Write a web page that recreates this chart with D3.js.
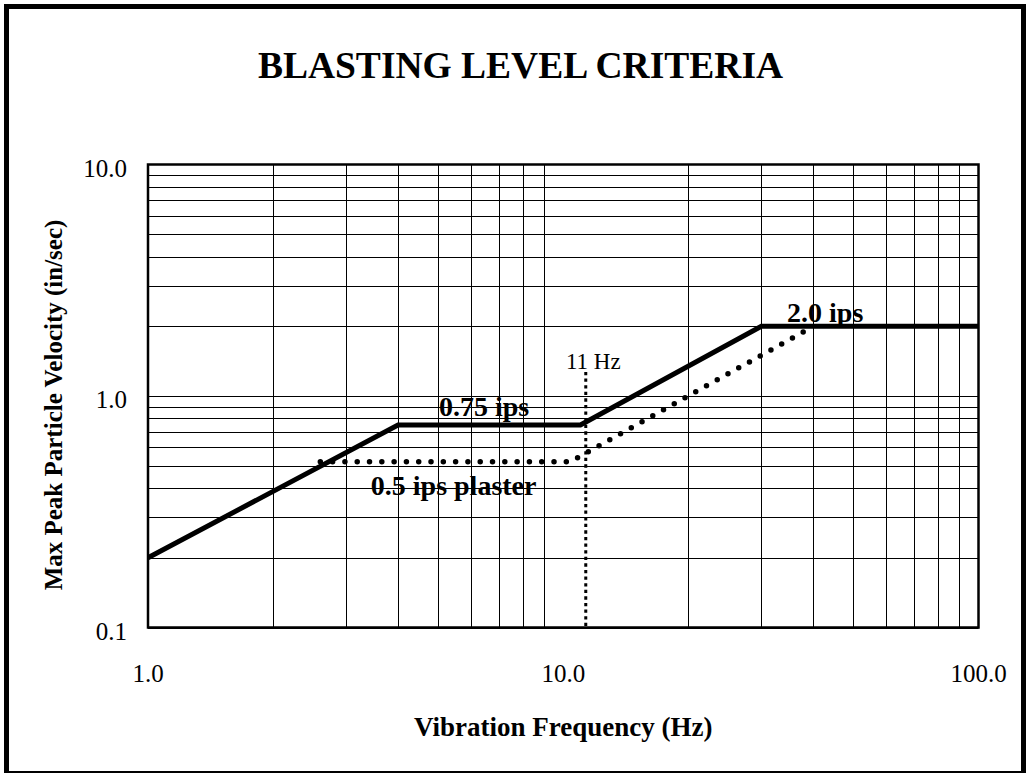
<!DOCTYPE html>
<html><head><meta charset="utf-8">
<script src="https://cdn.jsdelivr.net/npm/d3@7"></script>
<style>
html,body{margin:0;padding:0;background:#fff;}
svg{display:block;font-family:"Liberation Serif","Times New Roman",serif;}
</style></head>
<body>
<svg id="chart" width="1027" height="773"></svg>
<script>
// ---- data ----
const xTickValues = [1, 10, 100];
const xTickLabels = ["1.0", "10.0", "100.0"];
const yTickValues = [0.1, 1, 10];
const yTickLabels = ["0.1", "1.0", "10.0"];

const limitFreq = [1, 4, 11, 30, 100];
const limitVel  = [0.2, 0.75, 0.75, 2.0, 2.0];

const plasterFreq = [2.6, 10.4, 40];
const plasterVel  = [0.52, 0.52, 2.0];

const markerFreq = [11.33, 11.33];
const markerVel  = [1.27, 0.1];

const annotationText = ["0.75 ips", "2.0 ips", "0.5 ips plaster", "11 Hz"];
const annotationFreq = [5.02, 34.6, 3.44, 10.15];
const annotationVel  = [0.82, 2.09, 0.374, 1.31];
const annotationBold = [true, true, true, false];

const titleText = "BLASTING LEVEL CRITERIA";
const xTitle = "Vibration Frequency (Hz)";
const yTitle = "Max Peak Particle Velocity (in/sec)";

// ---- layout ----
const svg = d3.select("#chart");
const plot = {left: 148, right: 978.5, top: 164.5, bottom: 627.5};

const x = d3.scaleLog().domain([1, 100]).range([plot.left, plot.right]);
const y = d3.scaleLog().domain([0.1, 10]).range([plot.bottom, plot.top]);

// outer frame
svg.append("rect").attr("x", 6.5).attr("y", 6.5).attr("width", 1017).attr("height", 767)
  .attr("fill", "none").attr("stroke", "#000").attr("stroke-width", 5);

// title
svg.append("text").attr("x", 520.5).attr("y", 78).attr("text-anchor", "middle")
  .attr("font-size", 37.5).attr("font-weight", "bold").text(titleText);

// grid
const xGrid = [];
for (let d = 1; d < 100; d *= 10) for (let k = 2; k <= 9; k++) xGrid.push(d * k);
const yGrid = [];
for (let d = 0.1; d < 10; d *= 10) for (let k = 1; k <= 9; k++) yGrid.push(+(d * k).toPrecision(3));

const g = svg.append("g");
g.selectAll("line.vx").data(xGrid).join("line").attr("class", "vx")
  .attr("x1", d => Math.round(x(d)) + 0.5).attr("x2", d => Math.round(x(d)) + 0.5)
  .attr("y1", plot.top).attr("y2", plot.bottom)
  .attr("stroke", "#000").attr("stroke-width", 1);
g.selectAll("line.hy").data(yGrid).join("line").attr("class", "hy")
  .attr("y1", d => Math.round(y(d)) + 0.5).attr("y2", d => Math.round(y(d)) + 0.5)
  .attr("x1", plot.left).attr("x2", plot.right)
  .attr("stroke", "#000").attr("stroke-width", 1);

// plot border
svg.append("rect").attr("x", plot.left).attr("y", plot.top)
  .attr("width", plot.right - plot.left).attr("height", plot.bottom - plot.top)
  .attr("fill", "none").attr("stroke", "#000").attr("stroke-width", 2.5);

// axes labels
svg.selectAll("text.xt").data(xTickValues).join("text").attr("class", "xt")
  .attr("x", d => x(d)).attr("y", plot.bottom + 54.5).attr("text-anchor", "middle")
  .attr("font-size", 25).text((d, i) => xTickLabels[i]);
svg.selectAll("text.yt").data(yTickValues).join("text").attr("class", "yt")
  .attr("x", 127).attr("y", d => y(d) + 12).attr("text-anchor", "end")
  .attr("font-size", 25).text((d, i) => yTickLabels[i]);

svg.append("text").attr("x", (plot.left + plot.right) / 2).attr("y", 736)
  .attr("text-anchor", "middle").attr("font-size", 27).attr("font-weight", "bold").text(xTitle);
svg.append("text").attr("transform", "translate(62,405) rotate(-90)")
  .attr("text-anchor", "middle").attr("font-size", 25).attr("font-weight", "bold").text(yTitle);

// series
const line = d3.line().x(d => x(d[0])).y(d => y(d[1]));

svg.append("path").datum(d3.zip(markerFreq, markerVel)).attr("d", line)
  .attr("fill", "none").attr("stroke", "#000").attr("stroke-width", 3)
  .attr("stroke-dasharray", "3.3 3.3");

svg.append("path").datum(d3.zip(plasterFreq, plasterVel)).attr("d", line)
  .attr("fill", "none").attr("stroke", "#000").attr("stroke-width", 5.5)
  .attr("stroke-linecap", "round").attr("stroke-dasharray", "0 12.3");

svg.append("path").datum(d3.zip(limitFreq, limitVel)).attr("d", line)
  .attr("fill", "none").attr("stroke", "#000").attr("stroke-width", 5)
  .attr("stroke-linejoin", "miter");

// annotations
svg.selectAll("text.ann").data(annotationText).join("text").attr("class", "ann")
  .attr("x", (d, i) => x(annotationFreq[i])).attr("y", (d, i) => y(annotationVel[i]))
  .attr("font-size", (d, i) => annotationBold[i] ? 28 : 23)
  .attr("font-weight", (d, i) => annotationBold[i] ? "bold" : "normal")
  .text(d => d);
</script>
</body></html>
